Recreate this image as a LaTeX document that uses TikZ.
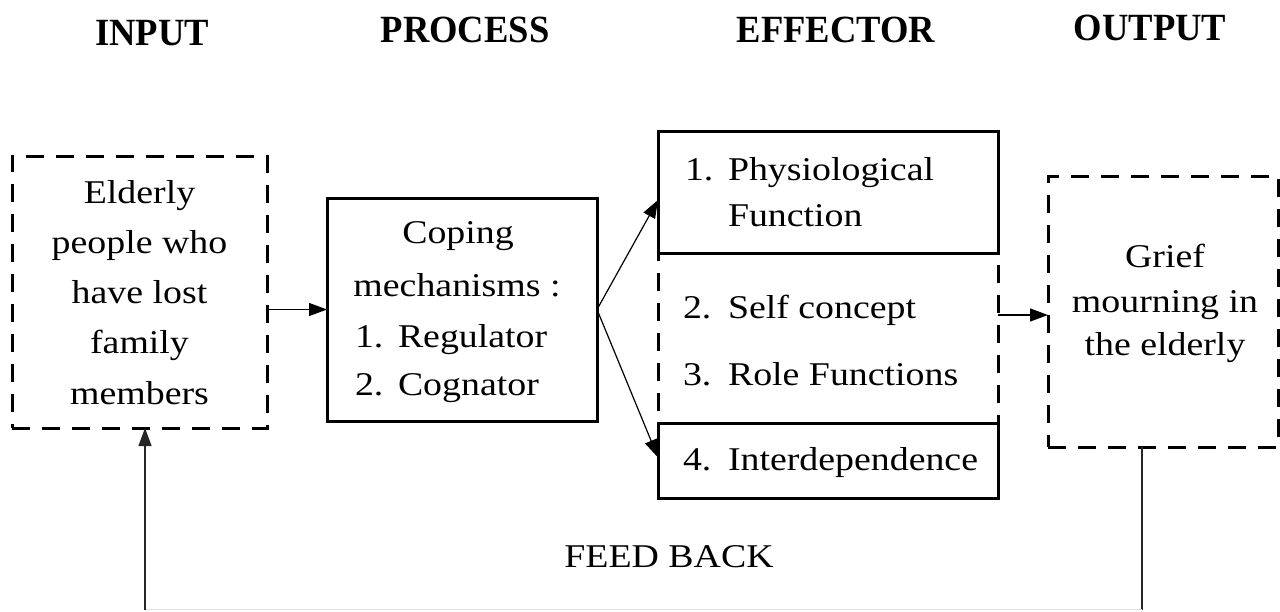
\documentclass[tikz,border=0pt]{standalone}
\usepackage{fontspec}
\setmainfont{Liberation Serif}[FakeStretch=1.14]
\newfontfamily\headfont{Liberation Serif}[FakeStretch=0.95]
\usetikzlibrary{arrows.meta,calc}

\begin{document}
\begin{tikzpicture}[x=1pt,y=-1pt,
  every node/.style={inner sep=0pt, outer sep=0pt},
  body/.style={font=\fontsize{33.2}{50}\selectfont},
  head/.style={font=\headfont\bfseries\fontsize{38.5}{46}\selectfont},
  dashbox/.style={draw, line width=3pt, dash pattern=on 18pt off 12pt},
  solidbox/.style={draw, line width=3pt, fill=white},
  arr/.style={line width=1.2pt, -{Triangle[length=18pt,width=13pt]}},
  fb/.style={line width=1.4pt, black!85}]

\useasboundingbox (0,0) rectangle (1280,611);

% column headings
\node[head, anchor=base] (hin)   at (152,45)  {INPUT};
\node[head, anchor=base] (hproc) at (465,42)  {PROCESS};
\node[head, anchor=base] (heff)  at (836,42)  {EFFECTOR};
\node[head, anchor=base] (hout)  at (1150,40) {OUTPUT};

% boxes
\node[dashbox, minimum width=255pt, minimum height=272pt] (in) at (139.5,292) {};
\node[solidbox, minimum width=270pt, minimum height=223pt] (proc) at (462,309.5) {};
\node[dashbox, minimum width=340pt, minimum height=170pt] (mid) at (828,338) {};
\node[solidbox, minimum width=340pt, minimum height=122pt] (phys) at (828,192) {};
\node[solidbox, minimum width=340pt, minimum height=75pt] (inter) at (828,460.5) {};
\node[dashbox, minimum width=230pt, minimum height=271pt] (out) at (1163,311.5) {};

% input text
\foreach \t/\y [count=\i] in {Elderly/203, people who/253, have lost/303, family/353, members/404}
  \node[body, anchor=base] (inl\i) at (139.5,\y) {\t};

% process text
\node[body, anchor=base] (pl1) at (458,243) {Coping};
\node[body, anchor=base] (pl2) at (457,296) {mechanisms :};
\node[body, anchor=base west] (pn1) at (355,347) {1.};
\node[body, anchor=base west] (pt1) at (398,347) {Regulator};
\node[body, anchor=base west] (pn2) at (355,395) {2.};
\node[body, anchor=base west] (pt2) at (398,395) {Cognator};

% effector text
\node[body, anchor=base west] (en1) at (685,180) {1.};
\node[body, anchor=base west] (et1) at (728,180) {Physiological};
\node[body, anchor=base west] (et1b) at (728,226) {Function};
\node[body, anchor=base west] (en2) at (683,318) {2.};
\node[body, anchor=base west] (et2) at (728,318) {Self concept};
\node[body, anchor=base west] (en3) at (683,385) {3.};
\node[body, anchor=base west] (et3) at (728,385) {Role Functions};
\node[body, anchor=base west] (en4) at (683,470) {4.};
\node[body, anchor=base west] (et4) at (728,470) {Interdependence};

% output text
\node[body, anchor=base] (ol1) at (1165,267) {Grief};
\node[body, anchor=base] (ol2) at (1165,312) {mourning in};
\node[body, anchor=base] (ol3) at (1165,355) {the elderly};

% feedback label
\node[body, anchor=base] (fbl) at (669,567) {FEED BACK};

% connectors
\draw[arr] (in.east |- proc.west) -- (proc.west);
\draw[arr] (proc.east) -- ([yshift=-8pt]phys.west);
\draw[arr] (proc.east) -- ([yshift=3pt]inter.west);
\draw[arr] ([yshift=23pt]mid.east) -- ([yshift=23pt]mid.east -| out.west);

% feedback loop
\coordinate (fbR) at (1142,609.5);
\coordinate (fbL) at (145,609.5);
\draw[fb] (out.south -| fbR) -- (fbR);
\draw[line width=1pt, black!12] (fbR) -- (fbL);
\draw[fb, arr] (fbL) -- (fbL |- in.south);
\end{tikzpicture}
\end{document}
